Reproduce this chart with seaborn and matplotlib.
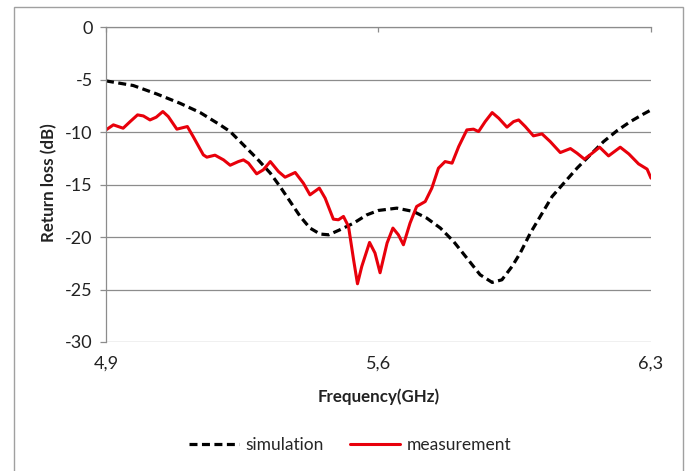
import matplotlib
matplotlib.use("Agg")
import matplotlib.pyplot as plt
import seaborn as sns
import pandas as pd
from matplotlib.patches import Rectangle

# ---- data ----
sim_freq = [4.900, 4.970, 5.030, 5.090, 5.142, 5.193, 5.219, 5.253, 5.287, 5.322,
            5.347, 5.373, 5.399, 5.424, 5.450, 5.472, 5.501, 5.536, 5.570, 5.600,
            5.647, 5.690, 5.724, 5.759, 5.793, 5.827, 5.861, 5.892, 5.917, 5.943,
            5.964, 5.990, 6.046, 6.076, 6.110, 6.144, 6.178, 6.213, 6.247, 6.281,
            6.300]
sim_db = [-5.11, -5.55, -6.35, -7.24, -8.13, -9.30, -9.94, -11.21, -12.48, -13.90,
          -15.18, -16.61, -18.04, -19.14, -19.71, -19.78, -19.30, -18.67, -17.88, -17.46,
          -17.24, -17.56, -18.19, -19.14, -20.42, -22.00, -23.59, -24.32, -24.07, -22.80,
          -21.52, -19.62, -16.13, -14.86, -13.43, -12.16, -10.90, -9.85, -8.99, -8.26,
          -7.88]

meas_freq = [4.900, 4.919, 4.944, 4.962, 4.981, 4.996, 5.013, 5.029, 5.046, 5.060,
             5.082, 5.109, 5.124, 5.150, 5.159, 5.180, 5.202, 5.219, 5.240, 5.253,
             5.266, 5.287, 5.304, 5.322, 5.343, 5.360, 5.386, 5.407, 5.424, 5.448,
             5.463, 5.484, 5.497, 5.510, 5.523, 5.536, 5.546, 5.557, 5.577, 5.591,
             5.604, 5.622, 5.637, 5.651, 5.664, 5.681, 5.698, 5.720, 5.737, 5.754,
             5.771, 5.789, 5.806, 5.827, 5.844, 5.857, 5.874, 5.892, 5.909, 5.930,
             5.947, 5.960, 5.977, 5.998, 6.020, 6.041, 6.067, 6.093, 6.110, 6.129,
             6.149, 6.168, 6.191, 6.221, 6.243, 6.268, 6.290, 6.300]
meas_db = [-9.78, -9.30, -9.62, -8.99, -8.35, -8.45, -8.83, -8.57, -8.03, -8.51,
           -9.71, -9.46, -10.42, -12.16, -12.38, -12.19, -12.64, -13.15, -12.80, -12.64,
           -12.95, -13.97, -13.59, -12.80, -13.75, -14.29, -13.84, -14.86, -15.97, -15.33,
           -16.29, -18.29, -18.35, -18.03, -18.99, -22.16, -24.45, -22.80, -20.51, -21.52,
           -23.40, -20.57, -19.14, -19.78, -20.73, -18.67, -17.08, -16.61, -15.33, -13.43,
           -12.80, -12.95, -11.37, -9.78, -9.71, -9.94, -8.99, -8.13, -8.67, -9.52,
           -8.99, -8.83, -9.46, -10.35, -10.16, -10.89, -11.94, -11.56, -12.00, -12.57,
           -12.00, -11.43, -12.26, -11.43, -12.07, -13.02, -13.52, -14.38]

x_ticks = [4.9, 5.6, 6.3]
x_tick_labels = ["4,9", "5,6", "6,3"]
y_ticks = [0, -5, -10, -15, -20, -25, -30]
y_tick_labels = ["0", "-5", "-10", "-15", "-20", "-25", "-30"]

sim_df = pd.DataFrame({"f": sim_freq, "db": sim_db})
meas_df = pd.DataFrame({"f": meas_freq, "db": meas_db})

sns.set_theme(style="white")
plt.rcParams["font.family"] = ["Lato", "DejaVu Sans"]

W, H = 689, 471
fig = plt.figure(figsize=(W / 100, H / 100), dpi=100)
L, R, T, B = 106, 651, 27.3, 342
ax = fig.add_axes([L / W, 1 - B / H, (R - L) / W, (B - T) / H])

grid_c = "#8c8c8c"
for yv in y_ticks:
    ax.axhline(yv, color=grid_c, lw=0.9, zorder=0)

sns.lineplot(data=sim_df, x="f", y="db", ax=ax, color="black", lw=2.3,
             linestyle=(0, (2.5, 1.4)), label="simulation", sort=False,
             solid_joinstyle="round", dash_joinstyle="round")
sns.lineplot(data=meas_df, x="f", y="db", ax=ax, color="#e8000b", lw=2.2,
             label="measurement", sort=False,
             solid_joinstyle="round", solid_capstyle="round")

ax.set_xlim(4.9, 6.3)
ax.set_ylim(-30, 0)
ax.set_xticks(x_ticks)
ax.set_xticklabels(x_tick_labels)
ax.set_yticks(y_ticks)
ax.set_yticklabels(y_tick_labels)

for s in ["right", "bottom"]:
    ax.spines[s].set_visible(False)
for s in ["left", "top"]:
    ax.spines[s].set_color(grid_c)
    ax.spines[s].set_linewidth(0.9)

ax.tick_params(axis="x", bottom=False, top=True, labelbottom=True, labeltop=False,
               direction="in", length=3.5, width=0.9, color=grid_c, pad=10,
               labelsize=13, labelcolor="#222222")
ax.tick_params(axis="y", left=True, direction="out", length=4.5, width=0.9,
               color=grid_c, pad=5, labelsize=13, labelcolor="#222222")

ax.set_xlabel("Frequency(GHz)", fontsize=12.2, fontweight="bold", color="#222222")
ax.set_ylabel("Return loss (dB)", fontsize=12.2, fontweight="bold", color="#222222")
ax.xaxis.set_label_coords(0.5, -0.148)
ax.yaxis.set_label_coords(-0.090, 0.508)

ax.get_legend().remove()
h, l = ax.get_legend_handles_labels()
fig.legend(h, l, loc="center", bbox_to_anchor=(0.508, 1 - 445 / H), ncol=2,
           frameon=False, fontsize=12.5, handlelength=2.9, columnspacing=1.5,
           handletextpad=0.35)

fig.patches.append(Rectangle((13.5 / W, -0.02), (682.5 - 13.5) / W, 1.02 - 7 / H,
                             transform=fig.transFigure, fill=False,
                             edgecolor="#a0a0a0", lw=1.0))

fig.savefig("out.png", dpi=100)
